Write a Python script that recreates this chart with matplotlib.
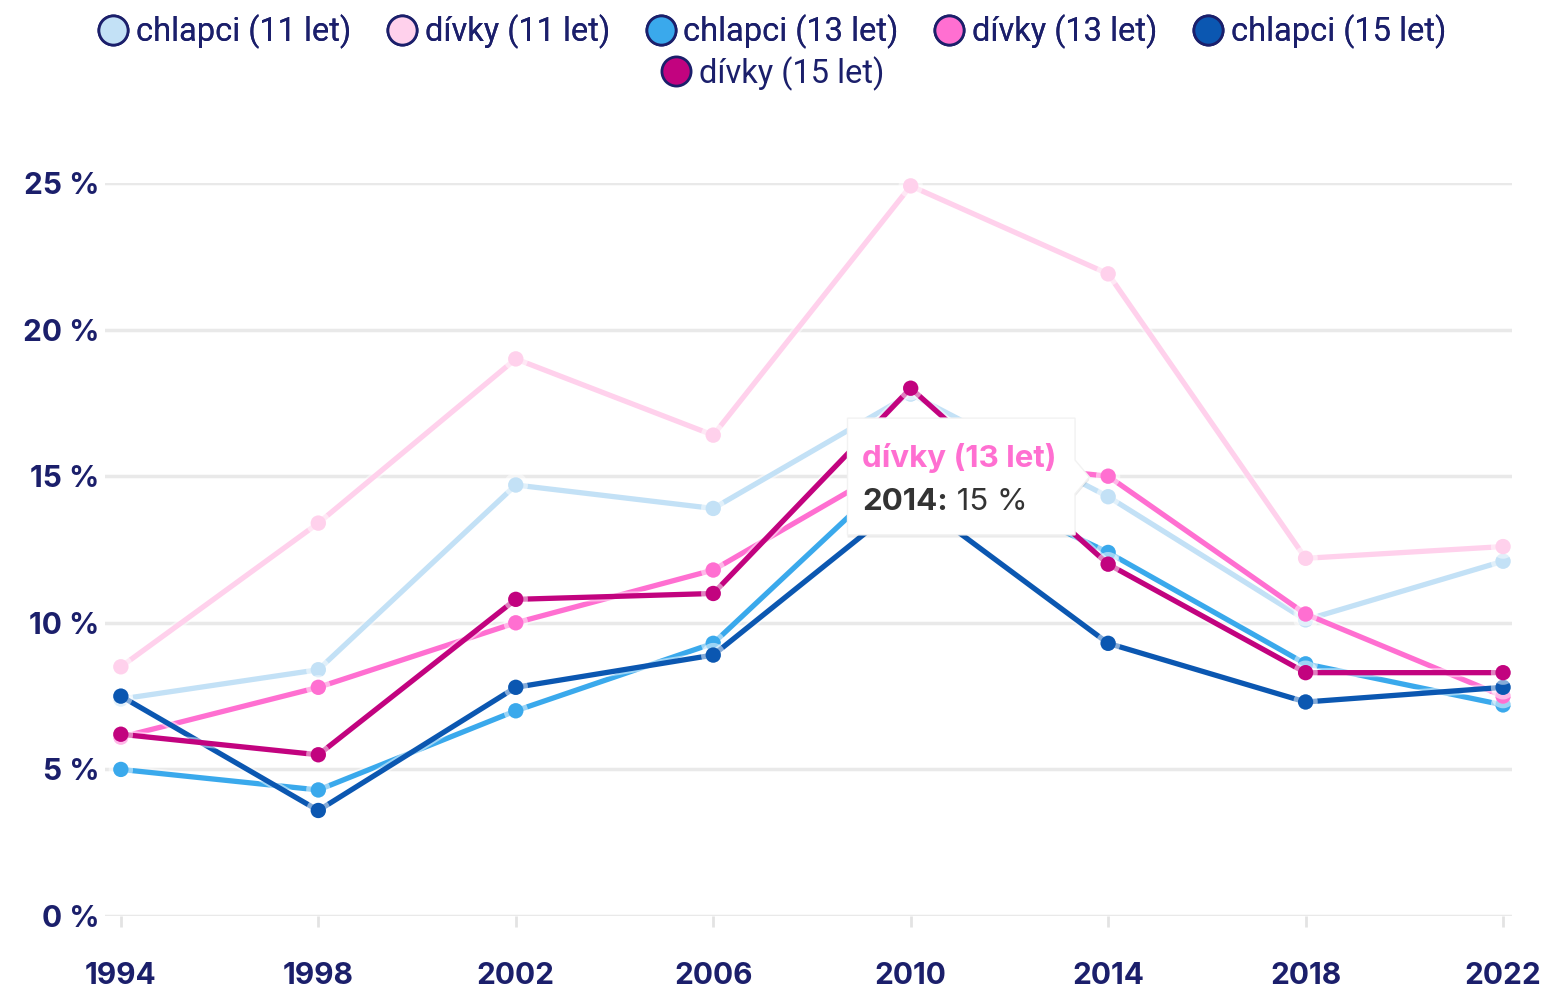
import matplotlib
matplotlib.use("Agg")
import matplotlib.pyplot as plt
from matplotlib.lines import Line2D
from matplotlib.patches import Polygon
import matplotlib.patheffects as pe

years = [1994, 1998, 2002, 2006, 2010, 2014, 2018, 2022]
series_names = ["chlapci (11 let)", "dívky (11 let)", "chlapci (13 let)",
                "dívky (13 let)", "chlapci (15 let)", "dívky (15 let)"]
chlapci_11 = [7.4, 8.4, 14.7, 13.9, 17.8, 14.3, 10.1, 12.1]
divky_11 = [8.5, 13.4, 19.0, 16.4, 24.9, 21.9, 12.2, 12.6]
chlapci_13 = [5.0, 4.3, 7.0, 9.3, 15.6, 12.4, 8.6, 7.2]
divky_13 = [6.1, 7.8, 10.0, 11.8, 15.7, 15.0, 10.3, 7.5]
chlapci_15 = [7.5, 3.6, 7.8, 8.9, 14.3, 9.3, 7.3, 7.8]
divky_15 = [6.2, 5.5, 10.8, 11.0, 18.0, 12.0, 8.3, 8.3]
colors = ["#c3e1f6", "#ffd1ec", "#3aa9ec", "#ff6fd1", "#0b57b1", "#c2037f"]
yticks = [0, 5, 10, 15, 20, 25]
ytick_labels = ["0 %", "5 %", "10 %", "15 %", "20 %", "25 %"]

tooltip_series = "dívky (13 let)"
tooltip_year = "2014:"
tooltip_value = " 15 %"

all_series = [chlapci_11, divky_11, chlapci_13, divky_13, chlapci_15, divky_15]

NAVY = "#1b1f6b"
FONT = ["Inter", "DejaVu Sans"]
LEGFONT = ["Roboto", "DejaVu Sans"]

fig = plt.figure(figsize=(15.45, 9.9), dpi=100)
ax = fig.add_axes([0.068, 0.0747, 0.9786 - 0.068, 0.8152 - 0.0747])

for vals, col in zip(all_series, colors):
    ax.plot(years, vals, color=col, lw=3.8, marker="o", markersize=11,
            markeredgewidth=0, solid_capstyle="round", clip_on=False, zorder=3,
            path_effects=[pe.Stroke(linewidth=6.5, foreground="white", alpha=0.5), pe.Normal()])

ax.set_ylim(0, 25)
ax.set_xlim(1994 - 0.32, 2022 + 0.18)
ax.set_yticks(yticks)
ax.set_yticklabels(ytick_labels)
ax.set_xticks(years)
ax.set_xticklabels([str(y) for y in years])
for s in ax.spines.values():
    s.set_visible(False)
ax.grid(axis="y", color="#e9e9e9", lw=2.5, zorder=0)
ax.tick_params(axis="y", length=0, pad=4)
ax.tick_params(axis="x", length=8, width=2, color="#e3e3e3", pad=25)
for lab in ax.get_yticklabels() + ax.get_xticklabels():
    lab.set_family(FONT)
    lab.set_fontweight("bold")
    lab.set_fontsize(21.5)
    lab.set_color(NAVY)

# tooltip
L, R, T, B = 2008.72, 2013.33, 16.98, 13.0
tip_x, tip_y = 2013.62, 14.97
poly = Polygon([(L, T), (R, T), (R, 15.55), (tip_x, tip_y), (R, 14.4), (R, B), (L, B)],
               closed=True, facecolor="white", edgecolor="#f2f2f2", lw=1, zorder=10,
               path_effects=[pe.SimplePatchShadow(offset=(0, -2), shadow_rgbFace="#000000", alpha=0.08),
                             pe.Normal()])
ax.add_patch(poly)
ax.text(L + 0.3, 15.62, tooltip_series, color="#ff6fd1", fontsize=22.5, fontweight="bold",
        family=FONT, va="center", ha="left", zorder=11)
t1 = ax.text(L + 0.3, 14.12, tooltip_year, color="#333333", fontsize=22.5, fontweight="bold",
             family=FONT, va="center", ha="left", zorder=11)
ax.annotate(tooltip_value, xy=(1, 0.5), xycoords=t1, va="center", ha="left",
            color="#333333", fontsize=22.5, family=FONT, zorder=11)

# legend
handles = [Line2D([], [], ls="none", marker="o", markersize=21, markerfacecolor=c,
                  markeredgecolor=NAVY, markeredgewidth=2) for c in colors]
leg1 = fig.legend(handles[:5], series_names[:5], loc="center", bbox_to_anchor=(0.5, 0.968),
                  ncol=5, frameon=False, handlelength=0.9, handletextpad=0.25,
                  columnspacing=1.1, prop={"family": LEGFONT, "size": 23.5})
for t in leg1.get_texts():
    t.set_color(NAVY)
leg2 = fig.legend(handles[5:], series_names[5:], loc="center", bbox_to_anchor=(0.5, 0.926),
                  ncol=1, frameon=False, handlelength=0.9, handletextpad=0.25,
                  prop={"family": LEGFONT, "size": 23.5})
for t in leg2.get_texts():
    t.set_color(NAVY)
fig.add_artist(leg1)

fig.savefig("out.png", dpi=100, facecolor="white")
